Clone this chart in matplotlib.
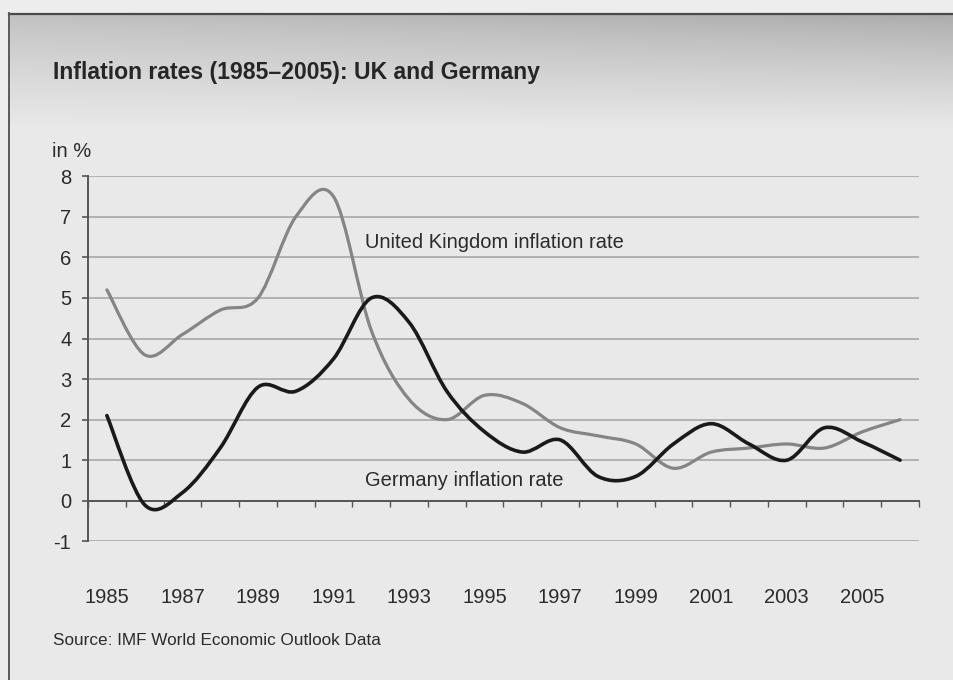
import numpy as np
import matplotlib
matplotlib.use("Agg")
import matplotlib.pyplot as plt
from matplotlib.path import Path
from matplotlib.patches import PathPatch
from matplotlib.lines import Line2D

plt.rcParams['font.family'] = ['Liberation Sans', 'DejaVu Sans']

# ---- data ----
years = list(range(1985, 2007))
uk = [5.2, 3.6, 4.1, 4.7, 5.0, 7.0, 7.5, 4.2, 2.5, 2.0, 2.6, 2.4, 1.8, 1.6,
      1.4, 0.8, 1.2, 1.3, 1.4, 1.3, 1.7, 2.0]
germany = [2.1, -0.1, 0.2, 1.3, 2.8, 2.7, 3.5, 5.0, 4.4, 2.7, 1.7, 1.2, 1.5,
           0.6, 0.6, 1.4, 1.9, 1.4, 1.0, 1.8, 1.45, 1.0]
year_labels = [str(y) for y in years[::2]]
y_ticks = list(range(-1, 9))

W, H = 954, 680
fig = plt.figure(figsize=(W / 100, H / 100), dpi=100)
fig.patch.set_facecolor('#ececec')

# ---- background panel with header gradient ----
bg = fig.add_axes([0, 0, 1, 1], zorder=-10)
bg.set_xlim(0, W)
bg.set_ylim(H, 0)
bg.axis('off')
yy, xx = np.mgrid[0:H, 0:W]
top_val = 192 - 22 * (xx / W)
t = np.clip((yy - 14) / 115.0, 0, 1)
t = t ** 0.8
header = top_val + (233 - top_val) * t
img = np.where(yy >= 14, header, 237)
img = np.where(xx < 10, 237, img)
rgb = np.dstack([img, img, img]) / 255.0
bg.imshow(rgb, extent=[0, W, H, 0], aspect='auto', interpolation='bilinear')
bg.add_line(Line2D([9, W], [13.5, 13.5], color='#4a4a4a', lw=1.6))
bg.add_line(Line2D([9.5, 9.5], [13, H], color='#5a5a5a', lw=1.4))

# ---- main axes ----
left, right = 88 / W, 919 / W
bottom, top = 1 - 541.3 / H, 1 - 176.3 / H
ax = fig.add_axes([left, bottom, right - left, top - bottom])
ax.set_facecolor('none')
n = len(years)
ax.set_xlim(-0.5, n - 0.5)
ax.set_ylim(-1, 8)


def smooth_path(xs, ys):
    pts = np.column_stack([xs, ys]).astype(float)
    verts = [pts[0]]
    codes = [Path.MOVETO]
    m = len(pts)
    for i in range(m - 1):
        p0 = pts[i - 1] if i > 0 else pts[i]
        p1 = pts[i]
        p2 = pts[i + 1]
        p3 = pts[i + 2] if i + 2 < m else pts[i + 1]
        c1 = p1 + (p2 - p0) / 6.0
        c2 = p2 - (p3 - p1) / 6.0
        verts += [c1, c2, p2]
        codes += [Path.CURVE4] * 3
    return Path(np.array(verts), codes)


xs = np.arange(n)
ax.add_patch(PathPatch(smooth_path(xs, uk), fill=False, edgecolor='#858585',
                       lw=2.3, capstyle='round', joinstyle='round', zorder=3))
ax.add_patch(PathPatch(smooth_path(xs, germany), fill=False, edgecolor='#1a1a1a',
                       lw=2.6, capstyle='round', joinstyle='round', zorder=4))

# y axis
ax.set_yticks(y_ticks)
ax.set_yticklabels([str(v) for v in y_ticks])
ax.yaxis.grid(True, color='#adadad', lw=1.3)
ax.set_axisbelow(True)
ax.tick_params(axis='y', direction='out', length=4, width=1.2, color='#555555',
               pad=8, labelsize=14.5, labelcolor='#2b2b2b')

# x axis: line at y=0, minor ticks between categories, labels far below
ax.spines['bottom'].set_position(('data', 0))
ax.spines['bottom'].set_color('#555555')
ax.spines['bottom'].set_linewidth(1.4)
ax.spines['left'].set_color('#555555')
ax.spines['left'].set_linewidth(1.4)
ax.spines['top'].set_visible(False)
ax.spines['right'].set_visible(False)
ax.set_xticks(xs[::2])
ax.set_xticklabels(year_labels)
ax.set_xticks(np.arange(-0.5, n, 1.0), minor=True)
ax.tick_params(axis='x', which='major', length=0, pad=63, labelsize=14.5,
               labelcolor='#2b2b2b')
ax.tick_params(axis='x', which='minor', direction='out', length=4, width=1.0,
               color='#555555')

# series labels
ax.text(6.83, 6.22, 'United Kingdom inflation rate', fontsize=14.5,
        color='#2b2b2b', va='baseline', ha='left')
ax.text(6.83, 0.36, 'Germany inflation rate', fontsize=14.5,
        color='#2b2b2b', va='baseline', ha='left')

# titles / notes
fig.text(53 / W, 1 - 79 / H, 'Inflation rates (1985–2005): UK and Germany',
         fontsize=16.6, fontweight='bold', color='#262626', va='baseline')
fig.text(52 / W, 1 - 157 / H, 'in %', fontsize=14.5, color='#2b2b2b',
         va='baseline')
fig.text(53 / W, 1 - 645 / H, 'Source: IMF World Economic Outlook Data',
         fontsize=12.3, color='#2b2b2b', va='baseline')

fig.savefig('out.png', dpi=100, facecolor=fig.get_facecolor())
